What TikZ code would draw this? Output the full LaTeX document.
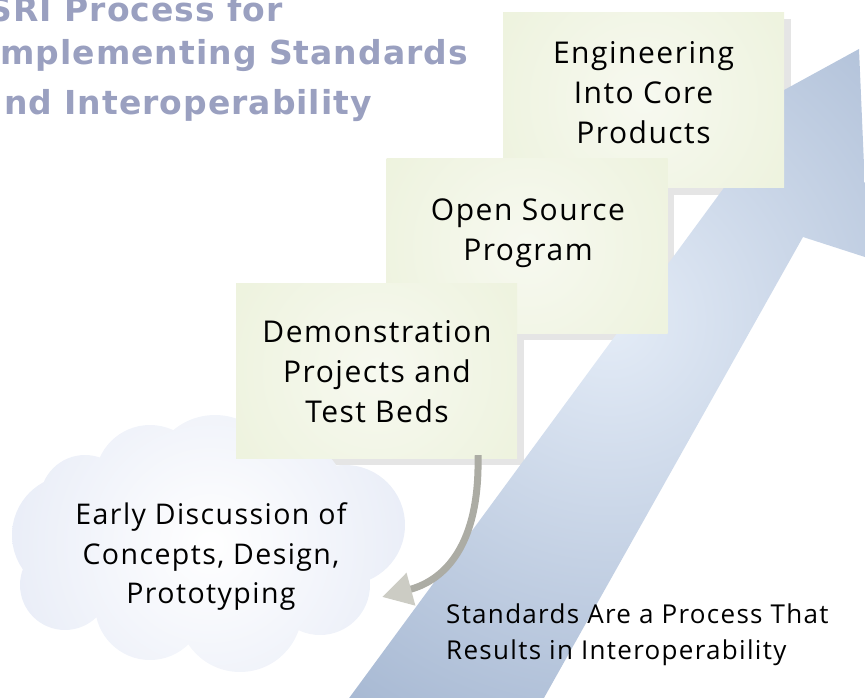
\documentclass[tikz,border=0pt]{standalone}
\usepackage{fontspec}
\setmainfont{Open Sans}
\newfontfamily\boxfont[LetterSpace=5]{Open Sans}
\newfontfamily\titlefont[LetterSpace=3]{DejaVu Sans}
\usetikzlibrary{arrows.meta,calc}
\definecolor{titlecol}{RGB}{154,160,192}
\definecolor{boxin}{RGB}{247,249,240}
\definecolor{boxout}{RGB}{228,236,204}
\definecolor{arrin}{RGB}{228,236,247}
\definecolor{arrout}{RGB}{152,172,202}
\definecolor{cloudout}{RGB}{212,220,240}
\definecolor{greyarr}{RGB}{172,172,164}
\definecolor{greyhead}{RGB}{204,204,196}
\begin{document}
\begin{tikzpicture}[x=1pt,y=-1pt,
  stepbox/.style={minimum width=281pt, minimum height=175pt, inner sep=0pt,
    path picture={\shade[inner color=boxin,outer color=boxout]
      (path picture bounding box.center) circle (330pt);}},
  boxshadow/.style={fill=black!10},
  boxtext/.style={font=\boxfont\fontsize{30}{40}\selectfont, align=center, inner sep=0pt},
  cloudtext/.style={font=\boxfont\fontsize{28.5}{39.5}\selectfont, align=center, inner sep=0pt},
  labeltext/.style={font=\boxfont\fontsize{26}{36}\selectfont, align=left, inner sep=0pt},
  titletext/.style={font=\titlefont\bfseries\fontsize{33}{40}\selectfont, text=titlecol, inner sep=0pt}]
\useasboundingbox (0,0) rectangle (865,698);
\clip (0,0) rectangle (865,698);
% box shadows
\fill[boxshadow] (510,19) rectangle (791,195);
\fill[boxshadow] (393,166) rectangle (674,340);
\fill[boxshadow] (243,290) rectangle (524,465);
% big rising arrow
\begin{scope}
\clip (344,705) -- (737,170) -- (700,136) -- (859,49) -- (868,258) -- (803,237) -- (540,705) -- cycle;
\shade[inner color=arrin, outer color=arrout] (610,320) circle (580pt);
\end{scope}
% cloud
\begin{scope}
\clip (72,535) circle (60pt) (85,500) circle (45pt) (150,480) circle (55pt)
      (215,480) circle (65pt) (290,495) circle (55pt) (345,525) circle (60pt)
      (320,585) circle (50pt) (240,610) circle (62pt) (150,605) circle (55pt)
      (65,585) circle (45pt) (210,545) circle (100pt);
\shade[inner color=white, outer color=cloudout] (210,545) circle (400pt);
\end{scope}
% boxes
\node[stepbox] (b1) at (643.5,100) {};
\node[stepbox] (b2) at (527,246) {};
\node[stepbox] (b3) at (376.5,370.5) {};
% grey curved arrow
\coordinate (cloudend) at (382,597);
\draw[greyarr, line width=7pt, -{Triangle[length=30pt, width=32pt, fill=greyhead, color=greyhead]}]
  ([xshift=101.5pt,yshift=3pt]b3.south) .. controls (480,545) and (445,580) .. (cloudend);
% texts
\node[boxtext] (t1) at (643.5,92.5) {Engineering\\Into Core\\Products};
\node[boxtext] (t2) at (528,233.5) {Open Source\\Program};
\node[boxtext] (t3) at (377,372) {Demonstration\\Projects and\\Test Beds};
\node[cloudtext] (t4) at (211,557) {Early Discussion of\\Concepts, Design,\\Prototyping};
\node[labeltext, anchor=west] (t5) at (446,635) {Standards Are a Process That\\Results in Interoperability};
\node[titletext, anchor=base east] (h1) at (283,22) {SRI Process for};
\node[titletext, anchor=base east] (h2) at (468,65) {Implementing Standards};
\node[titletext, anchor=base east] (h3) at (372,115) {and Interoperability};
\end{tikzpicture}
\end{document}
